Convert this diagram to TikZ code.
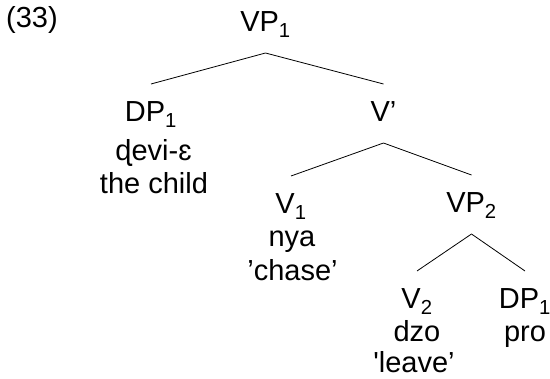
\documentclass[tikz,border=0pt]{standalone}
\usepackage{fontspec}
\setmainfont{Liberation Sans}
\begin{document}
\begin{tikzpicture}[x=1pt,y=-1pt,
  every node/.style={font=\fontsize{29}{34}\selectfont, inner sep=0pt},
  cat/.style={anchor=base, text height=21pt, text depth=4pt, outer sep=17pt},
  word/.style={anchor=base},
  branch/.style={line width=0.8pt}]
\useasboundingbox (0,0) rectangle (550,379);
\node[word] (ex) at (32,28) {(33)};
\node[cat] (vp1) at (265.5,32) {VP\textsubscript{1}};
\node[cat] (dp1) at (151,122) {DP\textsubscript{1}};
\node[word] (dp1w) at (153.5,161) {ɖevi-ɛ};
\node[word] (dp1g) at (154,194) {the child};
\node[cat] (vbar) at (383.5,122) {V’};
\node[cat] (v1) at (291,214) {V\textsubscript{1}};
\node[word] (v1w) at (292,247) {nya};
\node[word] (v1g) at (292.5,281) {’chase’};
\node[cat] (vp2) at (471.5,213) {VP\textsubscript{2}};
\node[cat] (v2) at (417,309) {V\textsubscript{2}};
\node[word] (v2w) at (417,342) {dzo};
\node[word, text depth=0pt] (v2g) at (414,373) {\textquotesingle leave’};
\node[cat] (dp1b) at (525,309) {DP\textsubscript{1}};
\node[word] (dp1bw) at (525,342) {pro};
\draw[branch] (vp1.south) -- (dp1.north);
\draw[branch] (vp1.south) -- (vbar.north);
\draw[branch] (vbar.south) -- (v1.north);
\draw[branch] (vbar.south) -- (vp2.north);
\draw[branch] (vp2.south) -- (v2.north);
\draw[branch] (vp2.south) -- (dp1b.north);
\end{tikzpicture}
\end{document}
